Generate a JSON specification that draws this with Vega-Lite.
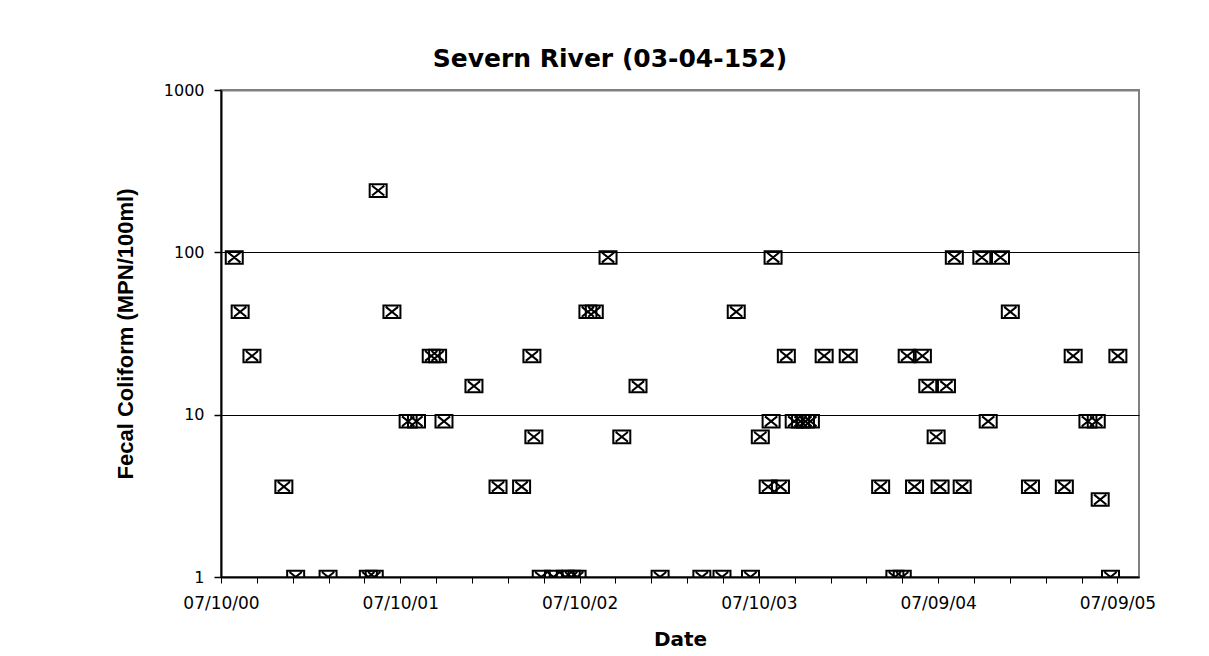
{
  "$schema": "https://vega.github.io/schema/vega-lite/v6.json",
  "autosize": {"type": "none"},
  "padding": {"left": 221, "top": 90, "right": 70, "bottom": 79},
  "width": 918,
  "height": 487,
  "background": "white",
  "config": {
    "font": "DejaVu Sans",
    "view": {"stroke": "#808080", "strokeWidth": 2}
  },
  "title": {
    "text": "Severn River (03-04-152)",
    "font": "DejaVu Sans",
    "fontSize": 25,
    "fontWeight": "bold",
    "color": "black",
    "anchor": "middle",
    "dx": -70,
    "offset": 10
  },
  "data": {
    "values": [
      {"date": "2000-08-06", "fc": 93},
      {"date": "2000-08-18", "fc": 43},
      {"date": "2000-09-11", "fc": 23},
      {"date": "2000-11-15", "fc": 3.6},
      {"date": "2000-12-09", "fc": 1},
      {"date": "2001-02-13", "fc": 1},
      {"date": "2001-05-06", "fc": 1},
      {"date": "2001-05-18", "fc": 1},
      {"date": "2001-05-26", "fc": 240},
      {"date": "2001-06-23", "fc": 43},
      {"date": "2001-07-26", "fc": 9.1},
      {"date": "2001-08-12", "fc": 9.1},
      {"date": "2001-09-11", "fc": 23},
      {"date": "2001-09-24", "fc": 23},
      {"date": "2001-10-07", "fc": 9.1},
      {"date": "2001-12-07", "fc": 15},
      {"date": "2002-01-25", "fc": 3.6},
      {"date": "2002-03-14", "fc": 3.6},
      {"date": "2002-04-04", "fc": 23},
      {"date": "2002-04-08", "fc": 7.3},
      {"date": "2002-04-23", "fc": 1},
      {"date": "2002-05-18", "fc": 1},
      {"date": "2002-06-11", "fc": 1},
      {"date": "2002-06-23", "fc": 1},
      {"date": "2002-07-05", "fc": 1},
      {"date": "2002-07-27", "fc": 43},
      {"date": "2002-08-09", "fc": 43},
      {"date": "2002-09-06", "fc": 93},
      {"date": "2002-10-04", "fc": 7.3},
      {"date": "2002-11-06", "fc": 15},
      {"date": "2002-12-21", "fc": 1},
      {"date": "2003-03-16", "fc": 1},
      {"date": "2003-04-26", "fc": 1},
      {"date": "2003-05-25", "fc": 43},
      {"date": "2003-06-23", "fc": 1},
      {"date": "2003-07-13", "fc": 7.3},
      {"date": "2003-07-29", "fc": 3.6},
      {"date": "2003-08-04", "fc": 9.1},
      {"date": "2003-08-08", "fc": 93},
      {"date": "2003-08-23", "fc": 3.6},
      {"date": "2003-09-04", "fc": 23},
      {"date": "2003-09-20", "fc": 9.1},
      {"date": "2003-10-03", "fc": 9.1},
      {"date": "2003-10-13", "fc": 9.1},
      {"date": "2003-10-23", "fc": 9.1},
      {"date": "2003-11-20", "fc": 23},
      {"date": "2004-01-08", "fc": 23},
      {"date": "2004-03-14", "fc": 3.6},
      {"date": "2004-04-12", "fc": 1},
      {"date": "2004-04-27", "fc": 1},
      {"date": "2004-05-07", "fc": 23},
      {"date": "2004-05-22", "fc": 3.6},
      {"date": "2004-06-07", "fc": 23},
      {"date": "2004-06-18", "fc": 15},
      {"date": "2004-07-05", "fc": 7.3},
      {"date": "2004-07-13", "fc": 3.6},
      {"date": "2004-07-26", "fc": 15},
      {"date": "2004-08-11", "fc": 93},
      {"date": "2004-08-27", "fc": 3.6},
      {"date": "2004-10-06", "fc": 93},
      {"date": "2004-10-19", "fc": 9.1},
      {"date": "2004-11-13", "fc": 93},
      {"date": "2004-12-03", "fc": 43},
      {"date": "2005-01-13", "fc": 3.6},
      {"date": "2005-03-23", "fc": 3.6},
      {"date": "2005-04-10", "fc": 23},
      {"date": "2005-05-10", "fc": 9.1},
      {"date": "2005-05-27", "fc": 9.1},
      {"date": "2005-06-04", "fc": 3},
      {"date": "2005-06-25", "fc": 1},
      {"date": "2005-07-10", "fc": 23}
    ]
  },
  "mark": {
    "type": "point",
    "shape": "M-1,-0.74H1V0.74H-1Z M-0.72,-0.58L0.72,0.58 M-0.72,0.58L0.72,-0.58",
    "size": 289,
    "filled": false,
    "stroke": "black",
    "strokeWidth": 2,
    "opacity": 1,
    "clip": true
  },
  "encoding": {
    "x": {
      "field": "date",
      "type": "temporal",
      "title": "Date",
      "scale": {
        "type": "utc",
        "domain": [
          {"year": 2000, "month": 7, "date": 10, "utc": true},
          {"year": 2005, "month": 8, "date": 22, "utc": true}
        ],
        "nice": false
      },
      "axis": {
        "values": [
          {"year": 2000, "month": 7, "date": 10, "utc": true},
          {"year": 2000, "month": 9, "date": 21, "utc": true},
          {"year": 2000, "month": 12, "date": 3, "utc": true},
          {"year": 2001, "month": 2, "date": 14, "utc": true},
          {"year": 2001, "month": 4, "date": 28, "utc": true},
          {"year": 2001, "month": 7, "date": 10, "utc": true},
          {"year": 2001, "month": 9, "date": 21, "utc": true},
          {"year": 2001, "month": 12, "date": 3, "utc": true},
          {"year": 2002, "month": 2, "date": 14, "utc": true},
          {"year": 2002, "month": 4, "date": 28, "utc": true},
          {"year": 2002, "month": 7, "date": 10, "utc": true},
          {"year": 2002, "month": 9, "date": 21, "utc": true},
          {"year": 2002, "month": 12, "date": 3, "utc": true},
          {"year": 2003, "month": 2, "date": 14, "utc": true},
          {"year": 2003, "month": 4, "date": 28, "utc": true},
          {"year": 2003, "month": 7, "date": 10, "utc": true},
          {"year": 2003, "month": 9, "date": 21, "utc": true},
          {"year": 2003, "month": 12, "date": 3, "utc": true},
          {"year": 2004, "month": 2, "date": 14, "utc": true},
          {"year": 2004, "month": 4, "date": 27, "utc": true},
          {"year": 2004, "month": 7, "date": 9, "utc": true},
          {"year": 2004, "month": 9, "date": 20, "utc": true},
          {"year": 2004, "month": 12, "date": 2, "utc": true},
          {"year": 2005, "month": 2, "date": 13, "utc": true},
          {"year": 2005, "month": 4, "date": 27, "utc": true},
          {"year": 2005, "month": 7, "date": 9, "utc": true}
        ],
        "labelExpr": "utcmonth(datum.value) == 6 ? utcFormat(datum.value, '%m/%d/%y') : ''",
        "labelOverlap": false,
        "labelFont": "DejaVu Sans",
        "labelFontSize": 17,
        "labelColor": "black",
        "labelPadding": 12,
        "labelFlush": false,
        "tickSize": 6,
        "tickColor": "black",
        "tickWidth": 1,
        "domainColor": "black",
        "domainWidth": 2,
        "grid": false,
        "titleFont": "DejaVu Sans",
        "titleFontSize": 20,
        "titleFontWeight": "bold",
        "titleColor": "black",
        "titlePadding": 18
      }
    },
    "y": {
      "field": "fc",
      "type": "quantitative",
      "title": "Fecal Coliform (MPN/100ml)",
      "scale": {"type": "log", "domain": [1, 1000], "nice": false},
      "axis": {
        "values": [1, 10, 100, 1000],
        "format": "d",
        "labelFont": "DejaVu Sans",
        "labelFontSize": 16,
        "labelColor": "black",
        "labelPadding": 10,
        "tickSize": 7,
        "tickColor": "black",
        "tickWidth": 1.5,
        "domainColor": "black",
        "domainWidth": 2,
        "grid": true,
        "gridColor": {"condition": {"test": "datum.value == 1000", "value": "#808080"}, "value": "black"},
        "gridWidth": {"condition": {"test": "datum.value == 1000", "value": 2}, "value": 1.2},
        "gridOpacity": 1,
        "titleFont": "Liberation Sans",
        "titleFontSize": 22,
        "titleFontWeight": "bold",
        "titleColor": "black",
        "titlePadding": 26
      }
    }
  }
}
